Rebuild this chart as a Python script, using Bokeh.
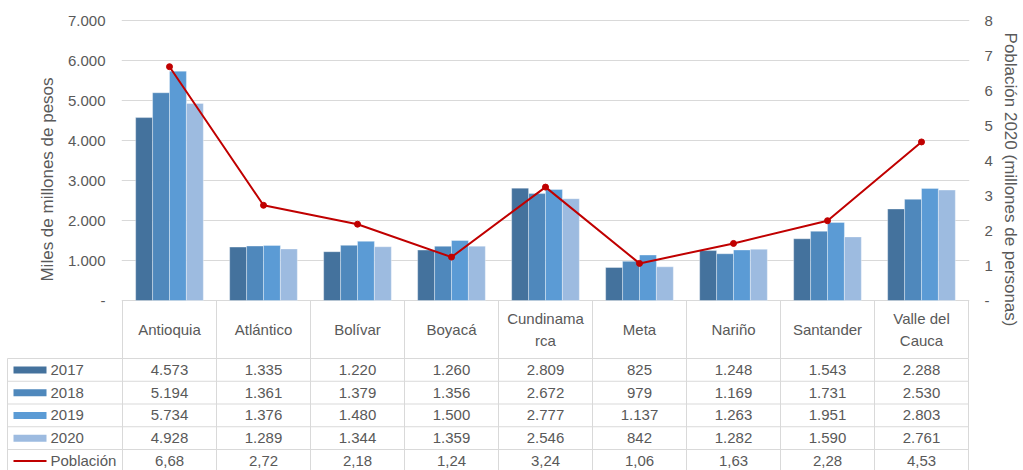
import numpy as np
from bokeh.plotting import figure
from bokeh.models import Range1d, LinearAxis, FixedTicker, ColumnDataSource
from bokeh.embed import file_html
from bokeh.resources import INLINE
from bokeh.core.properties import value

# ---------------- data ----------------
categories = ["Antioquia", "Atlántico", "Bolívar", "Boyacá", "Cundinamarca",
              "Meta", "Nariño", "Santander", "Valle del Cauca"]
header_labels = ["Antioquia", "Atlántico", "Bolívar", "Boyacá", "Cundinama\nrca",
                 "Meta", "Nariño", "Santander", "Valle del\nCauca"]
years = ["2017", "2018", "2019", "2020"]
v2017 = [4573, 1335, 1220, 1260, 2809, 825, 1248, 1543, 2288]
v2018 = [5194, 1361, 1379, 1356, 2672, 979, 1169, 1731, 2530]
v2019 = [5734, 1376, 1480, 1500, 2777, 1137, 1263, 1951, 2803]
v2020 = [4928, 1289, 1344, 1359, 2546, 842, 1282, 1590, 2761]
poblacion = [6.68, 2.72, 2.18, 1.24, 3.24, 1.06, 1.63, 2.28, 4.53]
pob_label = "Población"
left_ticks = [0, 1000, 2000, 3000, 4000, 5000, 6000, 7000]
left_tick_labels = ["-", "1.000", "2.000", "3.000", "4.000", "5.000", "6.000", "7.000"]
right_ticks = [0, 1, 2, 3, 4, 5, 6, 7, 8]
right_tick_labels = ["-", "1", "2", "3", "4", "5", "6", "7", "8"]
left_title = "Miles de millones de pesos"
right_title = "Población 2020 (millones de personas)"

# ---------------- styles ----------------
FONT = "Liberation Sans"
TXT = "#595959"
GRID = "#d9d9d9"
colors = ["#44729d", "#4f88bc", "#5b9bd5", "#9dbbe0"]
RED = "#c00000"

n = len(categories)
xs = np.arange(n) + 0.5
offsets = [-0.27, -0.09, 0.09, 0.27]
bar_w = 0.18

PX = 94.0           # pixels per category column
Y0 = 300.0          # pixel row of zero inside the frame
TOPH = 358          # frame height (chart + table header)
PX_PER_K = 40.0     # px per 1000
PX_PER_P = 35.0     # px per million persons
ROWH = 22.75        # table row height in px

p = figure(width=1023, height=470,
           x_range=Range1d(-1 / PX, n + 1 / PX),
           y_range=Range1d(-(TOPH - Y0) / PX_PER_K * 1000, Y0 / PX_PER_K * 1000),
           output_backend="svg", toolbar_location=None,
           x_axis_location=None, y_axis_location="left",
           min_border_left=121, min_border_right=54,
           min_border_top=0, min_border_bottom=470 - TOPH,
           outline_line_color=None, background_fill_color="white",
           border_fill_color="white")
p.extra_y_ranges = {"pob": Range1d(-(TOPH - Y0) / PX_PER_P, Y0 / PX_PER_P),
                    "tab": Range1d(0, -TOPH / ROWH)}

ax = p.yaxis[0]
ax.ticker = FixedTicker(ticks=left_ticks)
ax.major_label_overrides = {t: l for t, l in zip(left_ticks, left_tick_labels)}
ax.axis_label = left_title

rax = LinearAxis(y_range_name="pob", ticker=FixedTicker(ticks=right_ticks),
                 major_label_overrides={t: l for t, l in zip(right_ticks, right_tick_labels)},
                 axis_label=right_title)
p.add_layout(rax, "right")

for a in (ax, rax):
    a.axis_line_color = None
    a.major_tick_line_color = None
    a.minor_tick_line_color = None
    a.major_tick_out = 0
    a.major_tick_in = 0
    a.minor_tick_out = 0
    a.minor_tick_in = 0
    a.major_label_text_font = FONT
    a.major_label_text_font_size = "15px"
    a.major_label_text_color = TXT
    a.axis_label_text_font = FONT
    a.axis_label_text_font_size = "17px"
    a.axis_label_text_font_style = "normal"
    a.axis_label_text_color = TXT
ax.major_label_standoff = 16
ax.axis_label_standoff = 8
rax.major_label_standoff = 15
rax.axis_label_standoff = 5

p.xgrid.visible = False
p.ygrid.ticker = FixedTicker(ticks=left_ticks)
p.ygrid.grid_line_color = GRID
p.ygrid.grid_line_width = 1

series = [v2017, v2018, v2019, v2020]
for j, vals in enumerate(series):
    src = ColumnDataSource(dict(x=xs + offsets[j], top=vals))
    p.vbar(x="x", top="top", bottom=0, width=bar_w, source=src,
           fill_color=colors[j], line_color="white", line_alpha=0.35, line_width=1)

psrc = ColumnDataSource(dict(x=xs, y=poblacion))
p.line(x="x", y="y", source=psrc, y_range_name="pob", line_color=RED, line_width=2)
p.scatter(x="x", y="y", source=psrc, y_range_name="pob", size=6,
          fill_color=RED, line_color=RED)

# ---------------- data table ----------------
hb = -(TOPH - Y0) / PX_PER_K * 1000
p.segment(x0=list(range(n + 1)), y0=[0] * (n + 1), x1=list(range(n + 1)), y1=[hb] * (n + 1),
          line_color=GRID, line_width=1)
p.text(x=xs, y=[hb / 2] * n, text=header_labels, text_align="center",
       text_baseline="middle", text_font=value(FONT), text_font_size="15px",
       text_color=TXT, text_line_height=1.25)

row_labels = years + [pob_label]
nrows = len(row_labels)
xl = -115 / PX
T = dict(y_range_name="tab", level="overlay")

p.segment(x0=[xl] * (nrows + 1), y0=list(range(nrows + 1)),
          x1=[n] * (nrows + 1), y1=list(range(nrows + 1)),
          line_color=GRID, line_width=1, **T)
vx = [xl] + list(range(n + 1))
p.segment(x0=vx, y0=[0] * len(vx), x1=vx, y1=[nrows + 1] * len(vx),
          line_color=GRID, line_width=1, **T)

fmt_k = lambda v: f"{v:,}".replace(",", ".")
fmt_p = lambda v: f"{v:.2f}".replace(".", ",")
txt_kw = dict(text_baseline="middle", text_font=value(FONT), text_font_size="15px",
              text_color=TXT)
for r, vals in enumerate(series):
    p.text(x=xs, y=[r + 0.5] * n, text=[fmt_k(v) for v in vals], text_align="center",
           **txt_kw, **T)
p.text(x=xs, y=[nrows - 0.5] * n, text=[fmt_p(v) for v in poblacion], text_align="center",
       **txt_kw, **T)

# legend keys in the first column
sw_c = ((13 + 46) / 2 - 122) / PX
sw_w = 33 / PX
p.rect(x=[sw_c] * 4, y=[r + 0.5 for r in range(4)], width=sw_w, height=7 / ROWH,
       fill_color=colors, line_color=None, **T)
p.segment(x0=[sw_c - sw_w / 2], y0=[nrows - 0.5], x1=[sw_c + sw_w / 2], y1=[nrows - 0.5],
          line_color=RED, line_width=2, **T)
p.scatter(x=[sw_c], y=[nrows - 0.5], size=5, fill_color=RED, line_color=RED, **T)
p.text(x=[(50 - 122) / PX] * nrows, y=[r + 0.5 for r in range(nrows)], text=row_labels,
       text_align="left", **txt_kw, **T)

open("out.html", "w").write(file_html(p, INLINE))
